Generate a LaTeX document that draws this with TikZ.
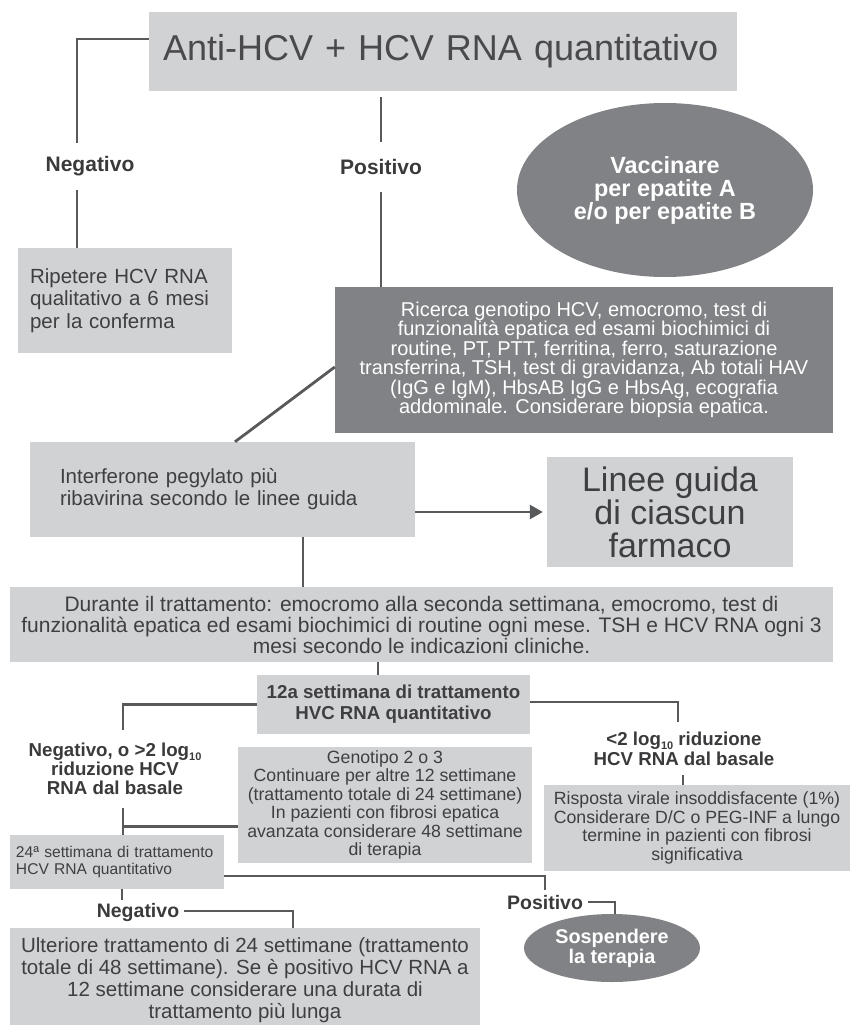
\documentclass[tikz,border=0pt]{standalone}
\usepackage{fontspec}
\setmainfont{Liberation Sans}
\usetikzlibrary{shapes.geometric,arrows.meta,calc}
\definecolor{boxgray}{HTML}{D1D2D4}
\definecolor{darkgray}{HTML}{808285}
\definecolor{linegray}{HTML}{58595B}
\definecolor{txtgray}{HTML}{3F3F41}
\definecolor{titlegray}{HTML}{4A4A4C}
\definecolor{labgray}{HTML}{3A3A3C}
\newcommand{\fsz}[2]{\fontsize{#1}{#2}\selectfont}
\newcommand{\subten}{\raisebox{-0.22em}{\fontsize{11}{11}\selectfont 10}}
\begin{document}
\begin{tikzpicture}[x=1pt,y=-1pt,
 box/.style={fill=boxgray,inner sep=0pt,text=txtgray,align=center},
 dbox/.style={fill=darkgray,inner sep=0pt,text=white,align=center},
 ell/.style={ellipse,fill=darkgray,inner sep=0pt,text=white,align=center},
 lab/.style={inner sep=0pt,text=labgray,align=center},
 conn/.style={draw=linegray,line width=2.8pt},
 ]
\useasboundingbox (0,0) rectangle (853,1025);

\node[box, text=titlegray, minimum width=588, minimum height=79, inner xsep=14pt, text width=560pt, align=left, font=\fsz{36}{40}] (title) at (443,51.5) {Anti-HCV + HCV RNA quantitativo};
\node[lab, minimum height=47, font=\bfseries\fsz{21}{24}] (negA) at (90,166.5) {Negativo};
\node[lab, minimum height=50, font=\bfseries\fsz{21}{24}] (posA) at (381,167) {Positivo};
\node[box, minimum height=105, inner xsep=12pt, text width=190pt, align=left, font=\fsz{20.5}{22.5}] (rip) at (125,300.5) {Ripetere HCV RNA\\qualitativo a 6 mesi\\per la conferma};
\node[ell, minimum width=296, minimum height=174, font=\bfseries\fsz{23.4}{23}] (vacc) at (665,190) {Vaccinare\\per epatite A\\e/o per epatite B};
\node[dbox, minimum width=498, minimum height=146, font=\fsz{20}{19.5}] (dark) at (584,360) {Ricerca genotipo HCV, emocromo, test di\\funzionalità epatica ed esami biochimici di\\routine, PT, PTT, ferritina, ferro, saturazione\\transferrina, TSH, test di gravidanza, Ab totali HAV\\(IgG e IgM), HbsAB IgG e HbsAg, ecografia\\addominale. Considerare biopsia epatica.};
\node[box, minimum height=95, inner xsep=30pt, text width=325pt, align=left, font=\fsz{20.5}{22}] (interf) at (222.5,489.5) {Interferone pegylato più\\ribavirina secondo le linee guida};
\node[box, minimum width=246, minimum height=110, font=\fsz{34}{33}] (linee) at (670,512) {Linee guida\\di ciascun\\farmaco};
\node[box, minimum width=823, minimum height=75, font=\fsz{21}{21}] (dur) at (421.5,624.5) {Durante il trattamento: emocromo alla seconda settimana, emocromo, test di\\funzionalità epatica ed esami biochimici di routine ogni mese. TSH e HCV RNA ogni 3\\mesi secondo le indicazioni cliniche.};
\node[box, minimum width=273, minimum height=59, font=\bfseries\fsz{18.7}{21}] (w12) at (393.5,704.5) {12a settimana di trattamento\\HVC RNA quantitativo};
\node[lab, minimum height=78, font=\bfseries\fsz{18.7}{19}] (negB) at (115,769) {Negativo, o >2 log\subten\\riduzione HCV\\RNA dal basale};
\node[lab, minimum height=53, font=\bfseries\fsz{18.7}{20}] (posB) at (684,748.5) {<2 log\subten{} riduzione\\HCV RNA dal basale};
\node[box, minimum width=294, minimum height=116, font=\fsz{17.7}{18.4}] (gen) at (385,805) {Genotipo 2 o 3\\Continuare per altre 12 settimane\\(trattamento totale di 24 settimane)\\In pazienti con fibrosi epatica\\avanzata considerare 48 settimane\\di terapia};
\node[box, minimum width=306, minimum height=86, font=\fsz{17.7}{18.8}] (risp) at (697,828) {Risposta virale insoddisfacente (1\%)\\Considerare D/C o PEG-INF a lungo\\termine in pazienti con fibrosi\\significativa};
\node[box, minimum height=54, inner xsep=6pt, text width=202pt, align=left, font=\fsz{15.6}{17.5}] (w24) at (117,862) {24ª settimana di trattamento\\HCV RNA quantitativo};
\node[lab, minimum height=26, font=\bfseries\fsz{19.5}{20}] (posC) at (545,903) {Positivo};
\node[ell, minimum width=176, minimum height=68, font=\bfseries\fsz{19.8}{20}] (sosp) at (612,948) {Sospendere\\la terapia};
\node[lab, minimum height=24, font=\bfseries\fsz{19.5}{20}] (negC) at (138,912) {Negativo};
\node[box, minimum width=470, minimum height=104, font=\fsz{20.5}{22}] (ult) at (245,980) {Ulteriore trattamento di 24 settimane (trattamento\\totale di 48 settimane). Se è positivo HCV RNA a\\12 settimane considerare una durata di\\trattamento più lunga};

\draw[conn] ($(title.west)+(0,-12.5)$) -| ($(negA.north)+(-13,0)$);
\draw[conn] ($(negA.south)+(-13,0)$) coordinate (a1) -- (a1 |- rip.north);
\draw[conn] (posA.north |- title.south) ++(0,6) -- (posA.north);
\draw[conn] (posA.south) -- (posA.south |- dark.north);
\draw[conn] ($(dark.west)+(0,7)$) -- ($(interf.north)+(12.5,0)$);
\draw[conn,-{Triangle[length=13pt,width=14pt]},shorten >=4pt] (interf.east |- linee.west) -- (linee.west);
\draw[conn] ($(interf.south)+(80.5,0)$) coordinate (a2) -- (a2 |- dur.north);
\draw[conn] ($(w12.north)+(-15.5,0)$) coordinate (a3) (a3 |- dur.south) -- (a3);
\draw[conn] (w12.west) -| ($(negB.north)+(8,0)$);
\draw[conn] ($(w12.east)+(0,-2.5)$) -| ($(posB.north)+(-6,0)$);
\draw[conn] ($(posB.south)+(-1,0)$) coordinate (a4) -- (a4 |- risp.north);
\draw[conn] ($(negB.south)+(8,0)$) coordinate (a5) -- (a5 |- w24.north);
\draw[conn] ($(a5)+(0,18)$) coordinate (j1) -- (j1 -| gen.west);
\draw[conn] ($(w24.east)+(0,14)$) -| (posC.north);
\draw[conn] ($(posC.east)+(5,-1)$) -| ($(sosp.north)+(3,0)$);
\draw[conn] ($(w24.south)+(5,0)$) coordinate (a6) -- (a6 |- negC.north);
\draw[conn] ($(negC.east)+(5,-1)$) -| ($(ult.north)+(48,0)$);
\end{tikzpicture}
\end{document}
